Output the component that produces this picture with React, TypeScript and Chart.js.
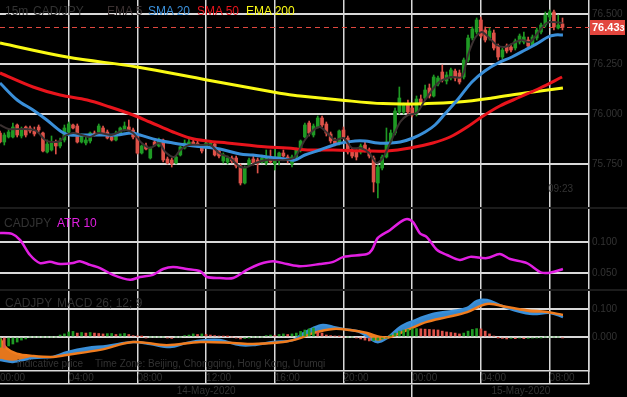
import React, { useEffect, useRef } from 'react';
import { Chart, registerables } from 'chart.js';

Chart.register(...registerables);

// ---------- data ----------
const OPEN = [75.905,75.860,75.885,75.885,75.945,75.890,75.935,75.930,75.915,75.935,
75.905,75.810,75.820,75.860,75.840,75.870,75.910,75.945,75.940,75.860,
75.855,75.865,75.905,75.910,75.930,75.910,75.885,75.870,75.900,75.920,
75.935,75.920,75.890,75.805,75.840,75.780,75.860,75.840,75.870,75.775,
75.770,75.755,75.795,75.830,75.845,75.860,75.855,75.835,75.835,75.845,
75.850,75.815,75.765,75.760,75.780,75.780,75.740,75.655,75.745,75.775,
75.770,75.760,75.755,75.780,75.750,75.770,75.805,75.785,75.750,75.785,
75.820,75.885,75.955,75.895,75.935,75.980,75.950,75.900,75.865,75.855,
75.920,75.880,75.815,75.810,75.810,75.845,75.820,75.780,75.655,75.730,
75.785,75.860,75.905,76.010,76.010,76.045,76.030,76.000,76.075,76.080,
76.130,76.090,76.150,76.210,76.165,76.180,76.215,76.205,76.185,76.270,
76.380,76.410,76.470,76.420,76.380,76.405,76.340,76.285,76.340,76.335,
76.330,76.360,76.360,76.370,76.345,76.380,76.410,76.445,76.485,76.510,
76.430,76.450];
const CLOSE = [75.860,75.895,75.910,75.935,75.895,75.920,75.895,75.915,75.900,75.920,
75.815,75.850,75.855,75.840,75.860,75.930,75.950,75.930,75.860,75.890,
75.870,75.905,75.895,75.940,75.905,75.880,75.870,75.905,75.930,75.940,
75.920,75.885,75.805,75.840,75.825,75.830,75.845,75.870,75.770,75.755,
75.750,75.785,75.835,75.855,75.860,75.845,75.840,75.815,75.855,75.855,
75.795,75.790,75.795,75.780,75.765,75.740,75.655,75.730,75.770,75.755,
75.750,75.780,75.785,75.760,75.785,75.805,75.790,75.770,75.785,75.820,
75.865,75.945,75.905,75.940,75.980,75.945,75.905,75.865,75.850,75.915,
75.885,75.810,75.790,75.785,75.840,75.820,75.790,75.660,75.735,75.785,
75.860,75.905,76.015,76.080,76.045,76.010,75.995,76.075,76.050,76.120,
76.090,76.185,76.180,76.170,76.195,76.220,76.180,76.160,76.270,76.380,
76.425,76.470,76.390,76.370,76.415,76.330,76.285,76.320,76.315,76.320,
76.365,76.390,76.385,76.340,76.385,76.420,76.445,76.495,76.510,76.435,
76.445,76.433];
const HIGH = [75.915,75.905,75.920,75.955,75.950,75.935,75.940,75.940,75.935,75.945,
75.910,75.870,75.890,75.870,75.880,75.945,75.960,75.950,75.950,75.900,
75.885,75.910,75.915,75.950,75.940,75.920,75.895,75.915,75.935,75.960,
75.970,75.930,75.900,75.845,75.855,75.835,75.870,75.880,75.875,75.785,
75.780,75.790,75.840,75.870,75.880,75.870,75.865,75.845,75.865,75.865,
75.860,75.825,75.805,75.790,75.790,75.790,75.750,75.740,75.780,75.790,
75.780,75.795,75.820,75.820,75.830,75.810,75.820,75.795,75.795,75.830,
75.870,75.955,75.965,75.950,75.990,75.990,75.960,75.910,75.880,75.920,
75.935,75.890,75.830,75.820,75.850,75.865,75.830,75.790,75.745,75.795,
75.930,75.920,76.030,76.135,76.055,76.070,76.040,76.090,76.095,76.145,
76.150,76.195,76.190,76.245,76.210,76.230,76.225,76.220,76.280,76.395,
76.435,76.480,76.485,76.435,76.430,76.420,76.350,76.330,76.350,76.350,
76.375,76.400,76.410,76.385,76.395,76.430,76.455,76.510,76.520,76.520,
76.495,76.480];
const LOW = [75.855,75.845,75.880,75.880,75.885,75.880,75.885,75.905,75.890,75.910,
75.810,75.805,75.815,75.800,75.830,75.860,75.905,75.925,75.855,75.855,
75.845,75.855,75.890,75.905,75.900,75.875,75.865,75.865,75.895,75.915,
75.915,75.875,75.800,75.800,75.820,75.775,75.840,75.835,75.760,75.750,
75.735,75.750,75.790,75.825,75.840,75.840,75.835,75.805,75.830,75.840,
75.790,75.780,75.755,75.750,75.755,75.730,75.645,75.650,75.740,75.745,
75.705,75.755,75.745,75.755,75.720,75.745,75.785,75.755,75.735,75.780,
75.810,75.880,75.890,75.885,75.930,75.935,75.890,75.855,75.840,75.845,
75.875,75.800,75.780,75.770,75.800,75.810,75.780,75.610,75.580,75.720,
75.780,75.855,75.895,76.000,76.000,75.995,75.985,75.990,76.040,76.070,
76.080,76.085,76.140,76.160,76.150,76.170,76.165,76.150,76.175,76.260,
76.370,76.400,76.380,76.360,76.370,76.320,76.270,76.275,76.305,76.310,
76.320,76.350,76.350,76.330,76.340,76.370,76.400,76.435,76.470,76.420,
76.425,76.420];

const EMA5_X = [0,2,5,8,9,10.5,12,14,15,17,19,21,23,26,29,31,33,35,37,38.5,40.5,42,44,47,49,51,53.5,56,57.5,59.5,62,64.5,66.5,68.7,71,73,74.5,76,78,80,82,84,86,87.7,89.3,91.2,93.2,95,97,99,102,105,107.5,109,110.6,112.2,113.7,115.7,117.6,119.6,121.5,123.4,125.4,127.3,129,131];
const EMA5_V = [75.945,75.925,75.925,75.92,75.905,75.87,75.86,75.865,75.89,75.905,75.895,75.885,75.905,75.895,75.92,75.905,75.855,75.83,75.855,75.81,75.785,75.82,75.845,75.845,75.845,75.805,75.78,75.735,75.735,75.755,75.77,75.77,75.77,75.785,75.87,75.92,75.935,75.91,75.87,75.88,75.83,75.83,75.805,75.755,75.785,75.87,75.96,75.995,76.005,76.07,76.155,76.185,76.185,76.295,76.38,76.41,76.385,76.345,76.335,76.355,76.37,76.36,76.41,76.455,76.46,76.455];

const SMA20_X = [0,4,7.7,10.9,14.4,16.3,19.3,23.3,27.2,30.7,32.6,36.6,40.3,43.5,47.3,51.2,55.9,58.9,62.2,66.4,68.7,71,74.5,78.5,82.7,85,88,90.8,93.2,96.2,99,101.3,103.6,106.7,109.9,112.9,116,119.2,122.3,125.3,127.6,129.3,131.1];
const SMA20_V = [76.155,76.07,76.02,75.97,75.91,75.895,75.895,75.895,75.895,75.905,75.895,75.87,75.855,75.845,75.835,75.825,75.80,75.795,75.785,75.775,75.77,75.795,75.82,75.85,75.865,75.865,75.855,75.855,75.86,75.88,75.91,75.945,76.0,76.075,76.16,76.215,76.255,76.285,76.32,76.355,76.385,76.395,76.395];

const SMA50_X = [0,7.7,14,20.3,25.6,31,34.9,40.3,44.2,48.2,52.9,57.5,62.2,66.8,72.2,77.6,85.5,90.1,95.5,100.8,104.8,108.8,112.5,116.4,121.1,125.8,130.9];
const SMA50_V = [76.205,76.135,76.095,76.07,76.035,75.995,75.96,75.91,75.88,75.865,75.855,75.845,75.835,75.83,75.82,75.82,75.815,75.815,75.83,75.855,75.885,75.935,75.99,76.04,76.085,76.13,76.185];

const EMA200_X = [0,15.6,31.9,48.2,63.6,66.4,69.9,79.2,89.2,99.4,106.7,114.6,122.3,131.1];
const EMA200_V = [76.355,76.285,76.235,76.17,76.11,76.1,76.09,76.07,76.052,76.052,76.06,76.08,76.105,76.13];

const ATR_X = [0,2.8,4.7,7,9.3,11.6,14,17,18.6,21,23.3,26.3,30.3,32.6,35.6,38,40.3,43.5,46.6,48.2,51.2,54.3,57.5,60.5,63.6,66.8,69.9,74.5,77.6,80,85.5,86.6,88,90.8,93.2,94.8,96.2,97.8,99.4,101.8,104.1,107.1,109.5,113.4,116.4,118.8,122.7,125.8,127.6,128.8,131.1];
const ATR_V = [0.1145,0.113,0.103,0.079,0.066,0.068,0.0645,0.066,0.069,0.063,0.058,0.047,0.039,0.0435,0.047,0.0565,0.0597,0.0565,0.053,0.0435,0.042,0.042,0.055,0.0645,0.069,0.0645,0.061,0.0645,0.068,0.076,0.0806,0.087,0.1065,0.119,0.132,0.137,0.132,0.114,0.108,0.087,0.079,0.071,0.076,0.074,0.0806,0.0726,0.066,0.0516,0.05,0.0516,0.0565];

const MACD_X = [0,3,7.7,12.3,15.6,20.3,24.9,31,35,39.6,43.5,48.2,51.2,55.9,58.9,63.6,68.2,70.5,72.9,75.2,77.6,79.9,83.8,87.8,90.1,93.2,96.2,100.8,105.5,108.8,111.1,113.4,116.4,120.4,124.1,128.1,131.1];
const MACD_V = [-0.082,-0.089,-0.075,-0.071,-0.054,-0.039,-0.032,-0.018,-0.025,-0.036,-0.021,-0.011,-0.011,-0.029,-0.029,-0.018,-0.011,0.012,0.032,0.043,0.036,0.029,0.018,-0.018,-0.004,0.036,0.057,0.082,0.093,0.104,0.129,0.132,0.114,0.093,0.082,0.086,0.071];
const SIGNAL_X = [0,1.5,3.9,7.8,12.4,15.5,23.3,31,38.8,46.6,54.3,58.9,65.9,69.9,72.9,77.6,81.5,85.5,88.5,90.8,94.8,99.4,104.1,108.8,113.4,118.1,122.7,127.4,131.1];
const SIGNAL_V = [-0.004,-0.04,-0.06,-0.068,-0.071,-0.064,-0.046,-0.018,-0.029,-0.018,-0.021,-0.025,-0.018,-0.004,0.014,0.029,0.025,0.014,0,0,0.025,0.054,0.071,0.089,0.118,0.107,0.096,0.089,0.079];
const HIST = [-0.036,-0.039,-0.032,-0.025,-0.018,-0.011,-0.007,
0,0,0,0,0,0,0,
0.007,0.011,0.018,0.02,0.014,0.016,0.014,0.016,0.014,0.0125,0.011,0.012,0.0125,0.009,0.011,0.0125,0.009,0.005,0.002,0.001,
-0.003,0,0,0,0,-0.003,-0.005,0,0,
0.005,0.007,0.011,0.009,0.011,0.009,0.007,0.005,0.003,0.002,0.001,0,
-0.003,-0.007,-0.005,-0.002,0,0,0,
0.005,0.007,0.005,0.009,0.011,0.009,0.011,0.014,0.02,0.025,0.029,0.032,
0.018,0.014,0.007,0.005,0.003,0.002,0,0,0,
-0.003,-0.007,-0.011,-0.014,-0.0125,-0.011,-0.007,-0.003,
0.007,0.014,0.021,0.025,0.027,0.029,0.030,
0.029,0.028,0.027,0.026,0.025,0.021,0.018,0.016,0.014,0.011,
0.014,0.021,0.027,0.030,
0.029,0.021,0.011,0.003,-0.001,
-0.005,-0.007,-0.005,-0.006,-0.004,-0.006,-0.005,-0.004,-0.003,-0.002,
0,0,0,0,-0.003];

const TIME_TICKS = [0, 16, 32, 48, 64, 80, 96, 112, 128];
const TIME_LABELS = ['00:00', '04:00', '08:00', '12:00', '16:00', '20:00', '00:00', '04:00', '08:00'];
const DATE_TICKS = [48, 96, 121.3];
const DATE_LABELS = ['14-May-2020', '', '15-May-2020'];
const DAY_BREAK = 96;
const PRICE_TICKS = [75.75, 76.0, 76.25, 76.5];
const ATR_TICKS = [0.05, 0.1];
const MACD_TICKS = [0, 0.1];

// ---------- style ----------
const X_MAX = 137.17;
const AXIS_W = 38;
const GRID = '#d9d9d9';
const TXT = '#333333';
const FONT = "'Liberation Sans', Arial, Helvetica, sans-serif";
const UP = '#1f9a24';
const DOWN = '#de5249';
const C_EMA5 = '#3b3131';
const C_SMA20 = '#3a8fd9';
const C_SMA50 = '#e8141c';
const C_EMA200 = '#fafa14';
const C_ATR = '#e21fe2';
const C_SIGNAL = '#f07c1e';

Chart.defaults.font.family = FONT;

const pts = (xs: number[], vs: number[]) => xs.map((x, i) => ({ x, y: vs[i] }));

function xScale() {
  return {
    type: 'linear', min: 0, max: X_MAX, offset: false, bounds: 'data',
    grid: {
      color: (c: any) => (c.tick && c.tick.value === 0 ? 'rgba(0,0,0,0)' : GRID),
      lineWidth: 1.5, offset: false, drawTicks: false,
    },
    border: { display: false },
    ticks: { display: false, autoSkip: false },
    afterBuildTicks: (s: any) => { s.ticks = TIME_TICKS.map((v) => ({ value: v })); },
    afterFit: (s: any) => { s.height = 0; s.paddingLeft = 0; s.paddingRight = 0; },
  };
}

function yScale(min: number, max: number, ticks: number[], digits: number) {
  return {
    type: 'linear', position: 'right', min, max, bounds: 'data',
    grid: { color: GRID, lineWidth: 2, drawTicks: false },
    border: { display: true, color: GRID, width: 1.5 },
    ticks: {
      color: TXT, font: { family: FONT, size: 10 }, padding: 3, autoSkip: false,
      callback: (v: any) => Number(v).toFixed(digits),
    },
    afterBuildTicks: (s: any) => { s.ticks = ticks.map((v) => ({ value: v })); },
    afterFit: (s: any) => { s.width = AXIS_W; s.paddingTop = 0; s.paddingBottom = 0; },
  };
}

const baseOpts = {
  responsive: false,
  maintainAspectRatio: false,
  animation: false,
  events: [],
  layout: { padding: 0 },
  plugins: { legend: { display: false }, tooltip: { enabled: false } },
};

const lastPricePlugin = {
  id: 'lastPrice',
  beforeDatasetsDraw(chart: any) {
    const { ctx, chartArea, scales } = chart;
    const last = CLOSE[CLOSE.length - 1];
    const py = Math.round(scales.y.getPixelForValue(last)) + 0.5;
    ctx.save();
    ctx.strokeStyle = '#e0483f';
    ctx.lineWidth = 1;
    ctx.setLineDash([5, 4]);
    ctx.beginPath();
    ctx.moveTo(chartArea.left, py);
    ctx.lineTo(chartArea.right, py);
    ctx.stroke();
    ctx.restore();
  },
  afterDraw(chart: any) {
    const { ctx, chartArea, scales } = chart;
    const last = CLOSE[CLOSE.length - 1];
    const py = Math.round(scales.y.getPixelForValue(last)) + 0.5;
    ctx.save();
    ctx.fillStyle = '#e2463e';
    ctx.fillRect(chartArea.right + 1, py - 7.5, 35, 15);
    ctx.fillStyle = '#ffffff';
    ctx.textBaseline = 'middle';
    ctx.textAlign = 'left';
    const s = last.toFixed(3);
    const main = s.slice(0, -1);
    const tail = s.slice(-1);
    ctx.font = `bold 11px ${FONT}`;
    ctx.fillText(main, chartArea.right + 3, py + 0.5);
    const w = ctx.measureText(main).width;
    ctx.font = `bold 9px ${FONT}`;
    ctx.fillText(tail, chartArea.right + 3 + w, py + 1.5);
    ctx.restore();
  },
};

function Txt(props: { x: number; y: number; size?: number; color?: string; children: any }) {
  const size = props.size ?? 12;
  return (
    <div
      style={{
        position: 'absolute', left: props.x, top: props.y, fontSize: size, lineHeight: `${size}px`,
        fontFamily: FONT, color: props.color ?? TXT, whiteSpace: 'pre',
      }}
    >
      {props.children}
    </div>
  );
}

export default function App() {
  const priceRef = useRef<HTMLCanvasElement>(null);
  const atrRef = useRef<HTMLCanvasElement>(null);
  const macdRef = useRef<HTMLCanvasElement>(null);

  useEffect(() => {
    const candleColors = CLOSE.map((c, i) => (c >= OPEN[i] ? UP : DOWN));
    const priceChart = new Chart(priceRef.current as HTMLCanvasElement, {
      type: 'line',
      data: {
        datasets: [
          { type: 'line', data: pts(EMA5_X, EMA5_V), borderColor: C_EMA5, borderWidth: 2, pointRadius: 0, tension: 0.3 },
          { type: 'line', data: pts(SMA20_X, SMA20_V), borderColor: C_SMA20, borderWidth: 3, pointRadius: 0, tension: 0.35 },
          { type: 'line', data: pts(SMA50_X, SMA50_V), borderColor: C_SMA50, borderWidth: 3, pointRadius: 0, tension: 0.35 },
          { type: 'line', data: pts(EMA200_X, EMA200_V), borderColor: C_EMA200, borderWidth: 3, pointRadius: 0, tension: 0.35 },
          {
            type: 'bar', data: CLOSE.map((c, i) => ({ x: i, y: [OPEN[i], c] })),
            backgroundColor: candleColors, barThickness: 3, grouped: false, minBarLength: 1, borderWidth: 0,
          },
          {
            type: 'bar', data: HIGH.map((h, i) => ({ x: i, y: [LOW[i], h] })),
            backgroundColor: candleColors, barThickness: 1, grouped: false, borderWidth: 0,
          },
        ],
      } as any,
      options: {
        ...baseOpts,
        scales: { x: xScale(), y: yScale(75.535, 76.57, PRICE_TICKS, 3) },
      } as any,
      plugins: [lastPricePlugin],
    });

    const atrChart = new Chart(atrRef.current as HTMLCanvasElement, {
      type: 'line',
      data: {
        datasets: [
          { data: pts(ATR_X, ATR_V), borderColor: C_ATR, borderWidth: 2.5, pointRadius: 0, tension: 0.3 },
        ],
      } as any,
      options: {
        ...baseOpts,
        scales: { x: xScale(), y: yScale(0.0242, 0.1532, ATR_TICKS, 3) },
      } as any,
    });

    const histColors = HIST.map((h, i) => (i === 0 || h >= HIST[i - 1] ? UP : DOWN));
    const macdChart = new Chart(macdRef.current as HTMLCanvasElement, {
      type: 'line',
      data: {
        datasets: [
          {
            type: 'bar', data: HIST.map((h, i) => ({ x: i, y: h })),
            backgroundColor: histColors, barThickness: 2, grouped: false, borderWidth: 0,
          },
          { type: 'line', data: pts(SIGNAL_X, SIGNAL_V), borderColor: C_SIGNAL, borderWidth: 2.5, pointRadius: 0, tension: 0.35, fill: false },
          {
            type: 'line', data: pts(MACD_X, MACD_V), borderColor: C_SMA20, borderWidth: 2.5, pointRadius: 0, tension: 0.35,
            fill: { target: 1, above: 'rgba(58,143,217,0.95)', below: 'rgba(240,124,30,0.95)' },
          },
        ],
      } as any,
      options: {
        ...baseOpts,
        scales: {
          x: {
            type: 'linear', min: 0, max: X_MAX, offset: false, bounds: 'data', position: 'bottom', weight: 0,
            grid: {
              color: (c: any) => (c.tick && c.tick.value === 0 ? 'rgba(0,0,0,0)' : GRID),
              lineWidth: 1.5, offset: false, drawTicks: true, tickLength: 13,
            },
            border: { display: true, color: GRID, width: 1.5 },
            ticks: {
              color: TXT, font: { family: FONT, size: 10 }, align: 'start', padding: -12, maxRotation: 0, minRotation: 0,
              autoSkip: false, callback: (_v: any, i: number) => TIME_LABELS[i] ?? '',
            },
            afterBuildTicks: (s: any) => { s.ticks = [...TIME_TICKS.map((v) => ({ value: v })), { value: X_MAX }]; },
            afterFit: (s: any) => { s.height = 13; s.paddingLeft = 0; s.paddingRight = 0; },
          },
          xd: {
            type: 'linear', min: 0, max: X_MAX, offset: false, bounds: 'data', position: 'bottom', weight: 1,
            grid: {
              drawOnChartArea: false, drawTicks: true, tickLength: 13, lineWidth: 1.5,
              color: (c: any) => (c.tick && c.tick.value === DAY_BREAK ? GRID : 'rgba(0,0,0,0)'),
            },
            border: { display: true, color: GRID, width: 1.5 },
            ticks: {
              color: TXT, font: { family: FONT, size: 10 }, padding: -12, maxRotation: 0, minRotation: 0,
              autoSkip: false, callback: (_v: any, i: number) => DATE_LABELS[i] ?? '',
            },
            afterBuildTicks: (s: any) => { s.ticks = DATE_TICKS.map((v) => ({ value: v })); },
            afterFit: (s: any) => { s.height = 13; s.paddingLeft = 0; s.paddingRight = 0; },
          },
          y: yScale(-0.1214, 0.1643, MACD_TICKS, 3),
        },
      } as any,
    });

    return () => {
      priceChart.destroy();
      atrChart.destroy();
      macdChart.destroy();
    };
  }, []);

  const canvasStyle = (top: number, h: number): React.CSSProperties => ({
    position: 'absolute', left: 0, top, width: 627, height: h, background: '#000', display: 'block',
  });

  return (
    <div style={{ position: 'fixed', left: 0, top: 0, width: 627, height: 397, background: '#1c1c1c', overflow: 'hidden' }}>
      <canvas ref={priceRef} width={627} height={207} style={canvasStyle(0, 207)} />
      <canvas ref={atrRef} width={627} height={80} style={canvasStyle(209, 80)} />
      <canvas ref={macdRef} width={627} height={106} style={canvasStyle(291, 106)} />

      <Txt x={5} y={5}>15m</Txt>
      <Txt x={33} y={5}>CAD/JPY</Txt>
      <Txt x={107} y={5} color={C_EMA5}>EMA 5</Txt>
      <Txt x={148} y={5} color={C_SMA20}>SMA 20</Txt>
      <Txt x={197} y={5} color={C_SMA50}>SMA 50</Txt>
      <Txt x={246} y={5} color={C_EMA200}>EMA 200</Txt>

      <Txt x={548} y={184} size={10}>09:23</Txt>

      <Txt x={4} y={217}>CADJPY</Txt>
      <Txt x={57} y={217} color={C_ATR}>ATR 10</Txt>

      <Txt x={5} y={297}>CADJPY</Txt>
      <Txt x={57} y={297}>MACD 26; 12; 9</Txt>

      <Txt x={17} y={359} size={10}>indicative price</Txt>
      <Txt x={95} y={359} size={10}>Time Zone: Beijing, Chongqing, Hong Kong, Urumqi</Txt>
    </div>
  );
}
